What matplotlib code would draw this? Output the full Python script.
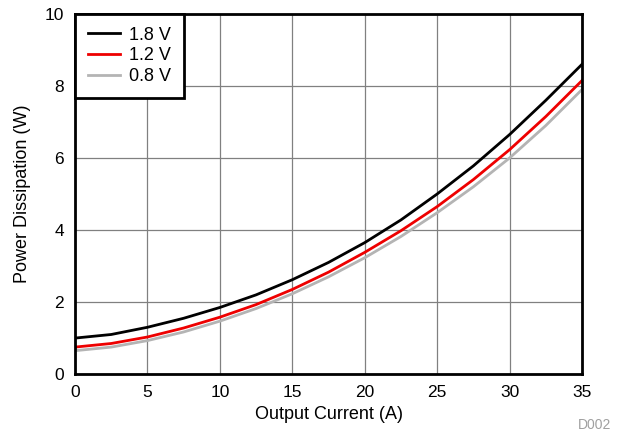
import matplotlib
matplotlib.use("Agg")
import matplotlib.pyplot as plt

plt.rcParams['font.family'] = ['Liberation Sans', 'DejaVu Sans']

current = [0, 2.5, 5, 7.5, 10, 12.5, 15, 17.5, 20, 22.5, 25, 27.5, 30, 32.5, 35]
p_18 = [1.0, 1.1, 1.3, 1.55, 1.85, 2.2, 2.62, 3.1, 3.65, 4.28, 5.0, 5.78, 6.65, 7.6, 8.6]
p_12 = [0.75, 0.85, 1.03, 1.28, 1.58, 1.93, 2.35, 2.83, 3.38, 3.98, 4.65, 5.4, 6.23, 7.15, 8.15]
p_08 = [0.65, 0.75, 0.93, 1.17, 1.47, 1.82, 2.23, 2.7, 3.23, 3.82, 4.48, 5.2, 6.0, 6.9, 7.9]
labels = ['1.8 V', '1.2 V', '0.8 V']
colors = ['black', '#ee0000', '#b4b4b4']

fig = plt.figure(figsize=(6.21, 4.34), dpi=100)
ax = fig.add_axes([0.1208, 0.138, 0.8164, 0.830])

for y, lab, c in zip([p_18, p_12, p_08], labels, colors):
    ax.plot(current, y, color=c, lw=2, label=lab)

ax.set_xlim(0, 35)
ax.set_ylim(0, 10)
ax.set_xticks(range(0, 36, 5))
ax.set_yticks(range(0, 11, 2))
ax.grid(True, color='#808080', lw=0.9)
ax.set_axisbelow(True)
for s in ax.spines.values():
    s.set_linewidth(2)
ax.tick_params(length=0, labelsize=12.5, pad=8)
ax.set_xlabel('Output Current (A)', fontsize=13, labelpad=4)
ax.set_ylabel('Power Dissipation (W)', fontsize=13, labelpad=10)

leg = ax.legend(loc='upper left', fontsize=13, fancybox=False, framealpha=1,
                edgecolor='black', borderaxespad=0, handlelength=1.8,
                labelspacing=0.22, borderpad=0.7, handletextpad=0.5)
leg.get_frame().set_linewidth(2)

fig.text(0.985, 0.005, 'D002', color='#a0a0a0', fontsize=10, ha='right', va='bottom')

fig.savefig('out.png', dpi=100)
